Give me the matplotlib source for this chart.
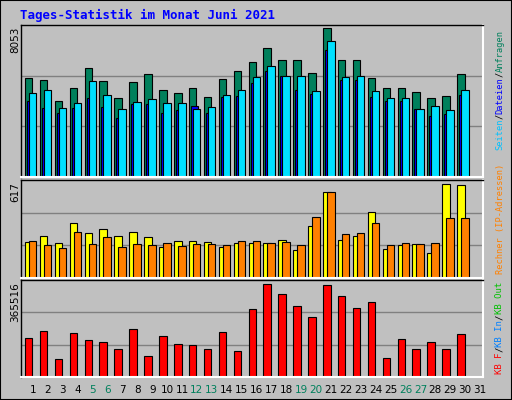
import matplotlib
matplotlib.use("Agg")
import matplotlib.pyplot as plt
from matplotlib.patches import Rectangle
import numpy as np

days = list(range(1, 31))
day_labels = [str(d) for d in range(1, 32)]
weekend = [5, 6, 12, 13, 19, 20, 26, 27]

anfragen = [5331, 5223, 4135, 4788, 5876, 5169, 4244, 5115, 5550, 4679, 4516, 4788, 4298, 5278, 5713,
            6203, 6965, 6312, 6312, 5604, 8053, 6312, 6312, 5332, 4788, 4788, 4570, 4244, 4353, 5550]
dateien = [4135, 3754, 3482, 3754, 4244, 3809, 3210, 3972, 3972, 3482, 3645, 3863, 3482, 4298, 4353,
           5060, 5713, 5441, 4679, 4462, 6856, 5223, 5223, 4298, 4135, 4135, 3700, 3319, 3428, 4407]
seiten = [4516, 4679, 3754, 4026, 5169, 4407, 3700, 4081, 4190, 4026, 4026, 3700, 3809, 4407, 4679,
          5387, 5985, 5441, 5441, 4625, 7345, 5387, 5441, 4625, 4244, 4244, 3700, 3863, 3645, 4679]
besuche = [236, 276, 229, 363, 296, 323, 276, 303, 270, 205, 243, 243, 236, 205, 229,
           229, 229, 249, 183, 343, 564, 249, 276, 437, 189, 216, 223, 163, 617, 610]
rechner = [243, 216, 196, 303, 223, 270, 203, 223, 216, 229, 209, 223, 223, 216, 243,
           243, 229, 236, 216, 403, 564, 290, 296, 363, 216, 229, 223, 229, 397, 397]
kbytes = [152600, 180800, 72300, 172700, 144600, 136600, 108500, 188800, 84400, 160700, 128500, 124500,
          108500, 176700, 104400, 269100, 365516, 329400, 281200, 237000, 361500, 321400, 273200, 297300,
          76300, 148600, 108500, 136600, 108500, 168700]

BG = "#C0C0C0"
W, H = 512, 400
fig = plt.figure(figsize=(W/100, H/100), dpi=100, facecolor=BG)
fig.patches.append(Rectangle((0, 0), 1, 1, transform=fig.transFigure, fill=False,
                             edgecolor="black", linewidth=1.5))

def px_axes(x0, y0, x1, y1):
    return fig.add_axes([x0/W, 1 - y1/H, (x1-x0)/W, (y1-y0)/H])

XL = (0.195, 31.2)
x = np.array(days, dtype=float)
pxd = 1/14.9

def style(ax, top):
    ax.set_facecolor(BG)
    ax.set_xlim(*XL)
    ax.set_ylim(0, top)
    ax.set_xticks([]); ax.set_yticks([])
    for s in ("top", "left"):
        ax.spines[s].set_color("black"); ax.spines[s].set_linewidth(1)
    for s in ("bottom", "right"):
        ax.spines[s].set_color("white"); ax.spines[s].set_linewidth(1.5)
    for f in (1/3, 2/3):
        ax.axhline(top*f, color="#808080", lw=1, zorder=0)

kw = dict(edgecolor="black", linewidth=0.8, align="edge", zorder=2)

ax1 = px_axes(21, 25, 483, 177)
style(ax1, 8217)
ax1.bar(x - 8*pxd, anfragen, width=7.5*pxd, color="#00805C", **kw)
ax1.bar(x - 6*pxd, dateien, width=7*pxd, color="#0000FF", **kw)
ax1.bar(x - 4*pxd, seiten, width=7.5*pxd, color="#00E0FF", **kw)

ax2 = px_axes(21, 180, 483, 278)
style(ax2, 646)
ax2.bar(x - 8*pxd, besuche, width=7.5*pxd, color="#FFFF00", **kw)
ax2.bar(x - 4*pxd, rechner, width=7.5*pxd, color="#FF8000", **kw)

ax3 = px_axes(21, 280, 483, 377)
style(ax3, 382700)
ax3.bar(x - 8*pxd, kbytes, width=7.5*pxd, color="#FF0000", **kw)

for i, lab in enumerate(day_labels):
    d = i + 1
    xp = 33 + (d-1)*14.9
    fig.text(xp/W, 1 - 390/H, lab, ha="center", va="center", fontsize=7.5,
             family="DejaVu Sans", color="#00805C" if d in weekend else "black")

for txt, ytop in (("8053", 27), ("617", 182), ("365516", 282)):
    fig.text(15/W, 1 - ytop/H, txt, rotation=90, ha="center", va="top", fontsize=7.5,
             family="DejaVu Sans")

fig.text(20/W, 1 - 15/H, "Tages-Statistik im Monat Juni 2021", ha="left", va="center",
         fontsize=9, family="DejaVu Sans Mono", weight="bold", color="#0000FF")

def legend(parts, ybottom, fs=6.5):
    y = ybottom
    step = fs * 0.602 * 100 / 72
    for t, c in parts:
        fig.text(500/W, 1 - y/H, t, rotation=90, ha="center", va="bottom", fontsize=fs,
                 family="DejaVu Sans Mono", color=c)
        y -= len(t) * step

legend([("Seiten", "#00C0FF"), ("/", "black"), ("Dateien", "#0000FF"), ("/", "black"),
        ("Anfragen", "#00805C")], 150, fs=6.2)
legend([("Rechner (IP-Adressen)", "#FF8000")], 274, fs=6.2)
legend([("KB F", "#FF0000"), ("/", "black"), ("KB In", "#0080FF"), ("/", "black"),
        ("KB Out", "#00C000")], 374, fs=6.5)

fig.savefig("out.png", dpi=100, facecolor=BG)
